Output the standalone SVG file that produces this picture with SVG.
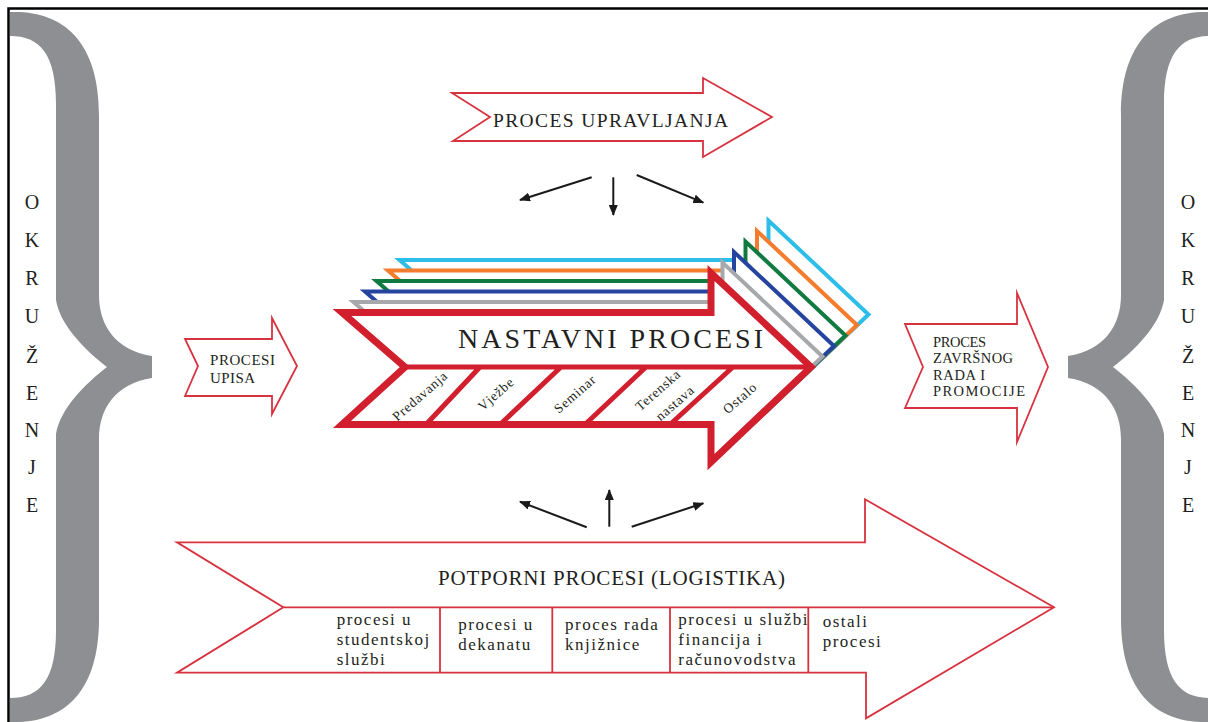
<svg xmlns="http://www.w3.org/2000/svg" width="1208" height="722" viewBox="0 0 1208 722">
<style>
.t{font-family:"Liberation Serif","Times New Roman",serif;fill:#231f20}
.thin{fill:#fff;stroke:#d8323f;stroke-width:1.8;stroke-linejoin:miter;stroke-miterlimit:12}
.ln{stroke:#d8323f;stroke-width:1.8;fill:none}
.lay{fill:#fff;stroke-width:4;stroke-linejoin:miter;stroke-miterlimit:12}
.main{fill:#fff;stroke:#d21f2e;stroke-width:7;stroke-linejoin:miter;stroke-miterlimit:12}
.div{stroke:#d21f2e;stroke-width:5;fill:none}
.ar{stroke:#1a1a1a;stroke-width:2;fill:none;marker-end:url(#ah)}
.brace{fill:#8e8f93}
.letters{font-size:20px;text-anchor:middle}
.sub{font-size:17px;letter-spacing:1.5px}
.rot{font-size:13.5px;letter-spacing:0.8px;text-anchor:middle}
</style>
<defs>
<marker id="ah" viewBox="0 0 11 9" refX="10" refY="4.5" markerWidth="11" markerHeight="9" markerUnits="userSpaceOnUse" orient="auto">
<path d="M0,0 L11,4.5 L0,9 Z" fill="#1a1a1a"/>
</marker>
<polygon id="arr" points="342,312.5 711,312.5 711,273 811,367 711,462 711,424.5 342,424.5 405,367"/>
<path id="brace" d="M10 12 C62 10 99 40 99 115 L99 295 C99 325 115 350 152 356 L152 378 C115 384 99 409 99 439 L99 619 C99 694 62 724 10 722 L10 698 C40 698 56 680 56 630 L56 434 C60 409 85 384 107 367 C85 350 60 325 56 300 L56 104 C56 54 40 36 10 36 Z"/>
</defs>
<rect x="0" y="0" width="1208" height="722" fill="#fff"/>
<path d="M8.5 722 V8.5 H1208" fill="none" stroke="#000" stroke-width="2.5"/>

<g id="okruzenje-left">
<use href="#brace" class="brace"/>
<text class="t letters" x="32" y="209">O</text>
<text class="t letters" x="32" y="247">K</text>
<text class="t letters" x="32" y="285">R</text>
<text class="t letters" x="32" y="323">U</text>
<text class="t letters" x="32" y="363">Ž</text>
<text class="t letters" x="32" y="400">E</text>
<text class="t letters" x="32" y="437">N</text>
<text class="t letters" x="32" y="474">J</text>
<text class="t letters" x="32" y="511.5">E</text>
</g>

<g id="okruzenje-right">
<use href="#brace" class="brace" transform="matrix(-1 0 0 1 1220 0)"/>
<text class="t letters" x="1188" y="209">O</text>
<text class="t letters" x="1188" y="247">K</text>
<text class="t letters" x="1188" y="285">R</text>
<text class="t letters" x="1188" y="323">U</text>
<text class="t letters" x="1188" y="363">Ž</text>
<text class="t letters" x="1188" y="400">E</text>
<text class="t letters" x="1188" y="437">N</text>
<text class="t letters" x="1188" y="474">J</text>
<text class="t letters" x="1188" y="511.5">E</text>
</g>

<g id="proces-upravljanja">
<polygon class="thin" points="452,93 703,93 703,78 772,117 703,157 703,141 453,141 490,117"/>
<text class="t" x="493" y="127" font-size="19.5" textLength="235" lengthAdjust="spacing">PROCES UPRAVLJANJA</text>
</g>

<g id="procesi-upisa">
<polygon class="thin" points="185,339 272,339 272,318 297,366 272,414 272,396 185,396 198,366"/>
<text class="t" x="210" y="365" font-size="15" textLength="65" lengthAdjust="spacing">PROCESI</text>
<text class="t" x="210" y="383" font-size="15" textLength="45" lengthAdjust="spacing">UPISA</text>
</g>

<g id="nastavni-procesi">
<use href="#arr" class="lay" stroke="#2cbde9" transform="translate(57.5,-52.5)"/>
<use href="#arr" class="lay" stroke="#f47c2c" transform="translate(46,-42)"/>
<use href="#arr" class="lay" stroke="#117a40" transform="translate(34.5,-31.5)"/>
<use href="#arr" class="lay" stroke="#2544a0" transform="translate(23,-21)"/>
<use href="#arr" class="lay" stroke="#a6a8ab" transform="translate(11.5,-10.5)"/>
<use href="#arr" class="main"/>
<path class="div" d="M405 367 H811 M426 424.5 L480 367 M500 424.5 L561 367 M585 424.5 L646 367 M670 424.5 L733 367"/>
<text class="t" x="458" y="348" font-size="28" textLength="305" lengthAdjust="spacing">NASTAVNI PROCESI</text>
<text class="t rot" transform="translate(420,396) rotate(-41)" y="4.5">Predavanja</text>
<text class="t rot" transform="translate(496,394) rotate(-41)" y="4.5">Vježbe</text>
<text class="t rot" transform="translate(575,394) rotate(-41)" y="4.5">Seminar</text>
<text class="t rot" transform="translate(658,390) rotate(-41)" y="4.5">Terenska</text>
<text class="t rot" transform="translate(675,403) rotate(-41)" y="4.5">nastava</text>
<text class="t rot" transform="translate(740,398) rotate(-41)" y="4.5">Ostalo</text>
</g>

<g id="proces-zavrsnog-rada">
<polygon class="thin" points="905,324 1017,324 1017,293 1048,367 1017,442 1017,408 905,408 923,367"/>
<text class="t" x="933" y="347" font-size="14.5" textLength="53" lengthAdjust="spacing">PROCES</text>
<text class="t" x="933" y="363" font-size="14.5" textLength="80" lengthAdjust="spacing">ZAVRŠNOG</text>
<text class="t" x="933" y="379.5" font-size="14.5" textLength="52" lengthAdjust="spacing">RADA I</text>
<text class="t" x="933" y="396" font-size="14.5" textLength="92" lengthAdjust="spacing">PROMOCIJE</text>
</g>

<g id="potporni-procesi">
<polygon class="thin" points="177,542.3 865,542.3 865,499.3 1054,607.3 866,718.3 866,672.7 177,672.7 283.3,607.3"/>
<path class="ln" d="M283.3 607.3 H1054 M440 607.3 V672.7 M552.3 607.3 V672.7 M670 607.3 V672.7 M808.3 607.3 V672.7"/>
<text class="t" x="438" y="585" font-size="21" textLength="347" lengthAdjust="spacing">POTPORNI PROCESI (LOGISTIKA)</text>
<text class="t sub" x="336.7" y="625">procesi u</text>
<text class="t sub" x="336.7" y="645">studentskoj</text>
<text class="t sub" x="336.7" y="664.5">službi</text>
<text class="t sub" x="458.3" y="630">procesi u</text>
<text class="t sub" x="458.3" y="650">dekanatu</text>
<text class="t sub" x="565" y="630">proces rada</text>
<text class="t sub" x="565" y="650">knjižnice</text>
<text class="t sub" x="678.3" y="625">procesi u službi</text>
<text class="t sub" x="678.3" y="645">financija i</text>
<text class="t sub" x="678.3" y="665">računovodstva</text>
<text class="t sub" x="822.7" y="627">ostali</text>
<text class="t sub" x="822.7" y="647">procesi</text>
</g>

<g id="connectors">
<line class="ar" x1="591.7" y1="177.3" x2="520" y2="200"/>
<line class="ar" x1="613.3" y1="177.3" x2="613.3" y2="215"/>
<line class="ar" x1="636.7" y1="175" x2="703.3" y2="202.7"/>
<line class="ar" x1="586.7" y1="527.3" x2="520" y2="501.7"/>
<line class="ar" x1="609.3" y1="526.7" x2="609.3" y2="490"/>
<line class="ar" x1="631.7" y1="526.7" x2="703.3" y2="503.3"/>
</g>
</svg>
